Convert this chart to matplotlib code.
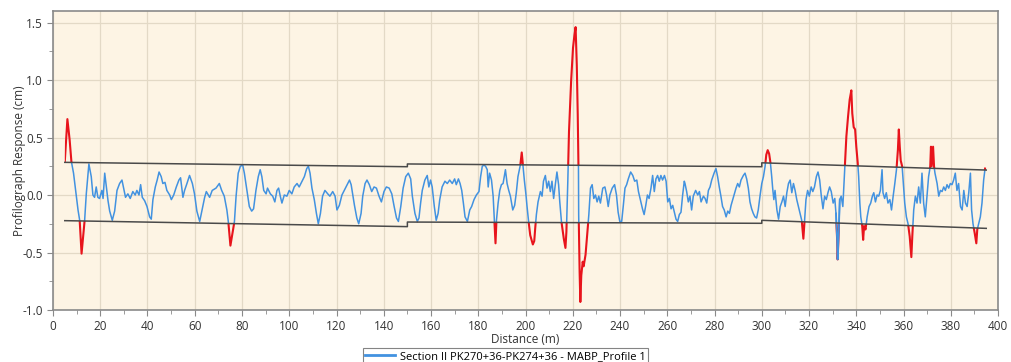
import numpy as np
import matplotlib
matplotlib.use("Agg")
import matplotlib.pyplot as plt
from matplotlib.patches import Polygon
from matplotlib.ticker import MultipleLocator

# profile (distance m, response cm)
dist = [5.0, 6.1, 7.05, 7.8, 8.7, 9.6, 10.6, 11.3, 12.1, 13.4, 14.1, 15.2, 16.2, 16.9, 17.6, 18.3,
        19.0, 19.7, 20.7, 21.2, 21.9, 22.6, 23.3, 24.0, 25.1, 26.1, 27.1, 28.2, 29.2, 29.9, 30.7,
        31.7, 32.7, 33.8, 34.8, 35.5, 36.4, 37.1, 37.8, 38.8, 39.8, 40.9, 41.6, 42.3, 43.3, 44.1,
        44.9, 45.8, 46.5, 47.4, 48.2, 49.4, 50.1, 51.1, 52.2, 53.3, 54.0, 55.0, 55.7, 56.7, 57.8,
        59.0, 59.9, 60.9, 62.1, 63.0, 64.2, 64.9, 66.3, 67.4,
        69.0, 70.4, 71.4, 72.5, 73.6, 74.2, 75.1, 76.0, 76.8, 77.5, 78.4, 79.3, 80.3, 81.0, 82.1,
        83.1, 84.1, 84.9, 85.9, 86.9, 87.7, 88.4, 89.2, 90.2, 90.8, 92.0, 93.0, 93.9, 94.8, 95.5,
        96.2, 96.9, 97.9, 99.0, 100.0, 101.1, 102.1, 103.3, 104.2, 105.2, 106.4, 107.4, 108.1,
        108.8, 109.6, 110.6, 111.5, 112.3, 113.2, 114.1, 115.1, 116.3, 117.2, 118.4, 119.4, 120.2,
        121.2, 122.3, 123.3, 124.5, 125.5, 126.2, 126.9, 127.6, 128.6, 129.4, 130.4, 131.1, 132.1,
        132.9, 133.9,
        134.9, 135.9, 136.9, 138.0, 139.0, 140.1, 141.1, 142.3, 143.4, 144.4, 145.4, 146.2, 147.2,
        148.2, 149.3, 150.4, 151.4, 152.1, 153.2, 154.2, 154.9, 155.6, 156.3, 157.4, 158.4, 159.1,
        159.8, 160.5, 161.4, 162.2, 163.0, 163.7, 164.7, 165.9, 166.9, 167.9, 169.0, 170.0, 170.7,
        171.6, 172.3, 173.0, 173.7, 174.4, 175.4, 176.4, 177.2, 178.2, 179.2, 180.3, 181.0, 181.7,
        182.4, 183.1, 183.8, 184.2, 184.8, 185.6, 186.3, 186.9, 187.3, 187.7, 188.4, 189.1, 189.8,
        190.5, 191.5, 192.2, 192.9, 193.6, 194.6, 195.4, 196.1, 196.8, 197.8, 198.4, 198.9, 199.5,
        200.2,
        200.6, 201.3, 202.0, 203.1, 203.7, 204.1, 204.6, 205.3, 206.3, 207.0, 207.6, 208.4, 209.1,
        209.8, 210.5, 211.2, 211.9, 212.6, 213.3, 214.0, 214.5, 215.2, 216.2, 216.9, 217.3, 217.9,
        218.4, 219.3, 220.1, 220.7, 221.2, 221.7, 222.1, 222.4, 222.5, 222.9, 223.2, 223.6, 224.2,
        224.6, 225.4, 226.1, 226.8, 227.5, 228.2, 228.9, 229.6, 230.3, 231.0, 231.7, 232.7, 233.6,
        234.3, 235.0, 235.7, 236.7, 237.7, 238.5, 239.2, 239.9, 240.7, 241.4, 242.1, 242.8, 243.5,
        244.5, 245.4, 246.2, 247.1, 247.8, 248.8, 249.5, 250.2, 250.9, 251.6, 252.3, 253.1, 253.8,
        254.5, 255.2, 255.9, 256.6, 257.3, 258.0, 258.8, 259.5, 260.2, 260.9, 261.6, 262.3, 263.0,
        263.7, 264.4, 265.1, 265.8, 266.5, 267.2,
        267.5, 268.2, 268.9, 269.6, 270.3, 271.0, 272.0, 272.9, 273.6, 274.3, 275.3, 276.0, 276.7,
        277.4, 278.1, 278.8, 279.8, 280.6, 281.3, 282.0, 282.7, 283.4, 284.1, 284.9, 285.6, 286.3,
        287.0, 287.7, 288.4, 289.1, 289.8, 290.5, 291.2, 292.2, 292.9, 293.6, 294.3, 295.0, 295.7,
        296.4, 297.1, 297.8, 298.5, 299.3, 300.0, 300.7, 301.4, 301.9, 302.5, 303.1, 303.6, 304.2,
        304.6, 305.1, 305.6, 306.4, 307.1, 307.8, 308.5, 309.2, 309.9, 310.6, 311.3, 312.0, 312.7,
        313.4, 314.1, 314.8, 315.5, 316.2, 316.9, 317.6, 318.1, 318.7, 319.4, 320.1, 320.9, 321.6,
        322.3, 323.1, 323.8, 324.5, 325.2, 325.9, 326.6, 327.3, 328.0, 328.7, 329.4, 330.2, 330.9,
        331.4, 331.9, 332.1, 332.6, 333.0, 333.6, 334.3,
        335.1, 335.8, 336.5, 337.2, 337.9, 338.3, 338.9, 339.5, 340.0, 340.6, 341.0, 341.5, 341.9,
        342.5, 342.9, 343.3, 343.9, 344.6, 345.4, 346.1, 346.8, 347.4, 348.1, 348.8, 349.5, 350.2,
        350.9, 351.3, 352.0, 352.7, 353.4, 354.2, 354.9, 355.6, 356.3, 357.0, 357.6, 358.0, 358.4,
        358.8, 359.4, 359.8, 360.5, 361.2, 361.9, 362.6, 363.3, 363.7, 364.3, 365.0, 365.7, 366.4,
        367.1, 367.8, 368.5, 369.2, 369.9, 370.6, 371.3, 371.6, 371.9, 372.5, 372.9, 373.3, 374.2,
        374.9, 375.6, 376.3, 377.0, 377.7, 378.4, 379.1, 379.8, 380.5, 381.2, 381.9, 382.6, 383.3,
        384.1, 384.8, 385.5, 386.2, 386.9, 387.6, 388.3, 388.8, 389.4, 390.1, 390.8, 391.2, 391.8,
        392.5, 393.2, 393.9, 394.5]

resp = [0.29, 0.66, 0.48, 0.29, 0.19, 0.04, -0.13, -0.22, -0.51, -0.22, 0.01, 0.27, 0.16, 0.0, -0.02, 0.07,
        -0.02, -0.03, 0.04, -0.03, 0.19, 0.07, -0.05, -0.14, -0.22, -0.14, 0.04, 0.10, 0.13, 0.06, -0.02,
        0.01, -0.03, 0.03, 0.0, 0.04, 0.0, 0.09, -0.02, -0.05, -0.10, -0.19, -0.21, -0.04, 0.07, 0.13,
        0.20, 0.16, 0.10, 0.11, 0.04, 0.0, -0.04, 0.0, 0.07, 0.13, 0.15, -0.02, 0.04, 0.10, 0.17,
        0.10, 0.01, -0.14, -0.23, -0.14, -0.02, 0.03, -0.02, 0.04,
        0.06, 0.10, 0.04, -0.01, -0.13, -0.23, -0.44, -0.33, -0.23, -0.01, 0.19, 0.25, 0.26, 0.19, 0.04,
        -0.10, -0.14, -0.12, 0.04, 0.16, 0.22, 0.16, 0.04, 0.01, 0.06, 0.01, -0.01, -0.06, 0.04, 0.06,
        -0.01, -0.07, 0.0, -0.01, 0.04, 0.01, 0.07, 0.10, 0.07, 0.11, 0.16, 0.23, 0.25,
        0.19, 0.06, -0.04, -0.16, -0.25, -0.16, -0.01, 0.04, 0.01, -0.01, 0.03, -0.01, -0.13,
        -0.09, 0.0, 0.04, 0.09, 0.13, 0.09, 0.0, -0.09, -0.20, -0.25, -0.16, -0.01, 0.10,
        0.13, 0.09,
        0.03, 0.07, 0.06, -0.01, -0.06, 0.03, 0.07, 0.06, 0.01, -0.10, -0.20, -0.23, -0.10,
        0.06, 0.16, 0.19, 0.14, -0.01, -0.16, -0.23, -0.20, -0.07, 0.04, 0.13, 0.17, 0.07,
        0.13, 0.07, -0.10, -0.22, -0.16, -0.04, 0.07, 0.12, 0.10, 0.13, 0.10, 0.14, 0.09,
        0.14, 0.10, 0.04, -0.07, -0.19, -0.23, -0.13, -0.10, -0.04, 0.0, 0.03, 0.16, 0.25,
        0.26, 0.25, 0.22, 0.07, 0.19, 0.13, -0.01, -0.25, -0.42, -0.22, -0.07, 0.04, 0.09,
        0.10, 0.22, 0.10, 0.04, -0.01, -0.13, -0.09, 0.02, 0.16, 0.26, 0.37, 0.26, 0.13,
        0.0,
        -0.09, -0.23, -0.35, -0.43, -0.40, -0.29, -0.17, -0.06, 0.03, -0.01, 0.12, 0.17, 0.06,
        0.12, 0.03, 0.12, -0.03, 0.09, 0.20, 0.09, -0.06, -0.23, -0.38, -0.46, -0.32, 0.12,
        0.55, 0.99, 1.28, 1.39, 1.46, 1.13, 0.70, 0.26, -0.17, -0.67, -0.93, -0.70, -0.58,
        -0.62, -0.52, -0.35, -0.17, 0.06, 0.09, -0.03, 0.0, -0.06, -0.01, -0.07, 0.06, 0.07,
        0.0, -0.10, 0.0, 0.06, 0.09, 0.0, -0.15, -0.23, -0.23, -0.09, 0.06, 0.09, 0.14,
        0.20, 0.17, 0.12, 0.13, 0.03, -0.06, -0.12, -0.17, -0.09, 0.0, -0.03, 0.06, 0.17,
        0.03, 0.14, 0.17, 0.12, 0.17, 0.13, 0.17, 0.12, -0.06, -0.03, -0.12, -0.09, -0.15,
        -0.21, -0.23, -0.17, -0.15, 0.0, 0.12,
        0.10, 0.03, -0.06, -0.01, -0.13, -0.01, 0.04, 0.0, 0.03, -0.06, -0.01, -0.03, -0.07,
        0.04, 0.07, 0.13, 0.19, 0.23, 0.16, 0.07, -0.01, -0.10, -0.13, -0.19, -0.14, -0.16,
        -0.09, -0.04, 0.01, 0.06, 0.10, 0.07, 0.13, 0.17, 0.19, 0.14, 0.06, -0.06, -0.12,
        -0.16, -0.19, -0.20, -0.13, 0.0, 0.10, 0.16, 0.25, 0.35, 0.39, 0.36, 0.29, 0.16,
        0.06, -0.04, 0.04, -0.13, -0.21, -0.10, -0.06, -0.01, -0.10, 0.02, 0.10, 0.13, 0.02,
        0.10, 0.04, -0.04, -0.10, -0.16, -0.22, -0.38, -0.23, -0.04, 0.04, -0.01, 0.07, 0.03,
        0.07, 0.16, 0.20, 0.13, -0.01, -0.12, -0.01, -0.04, 0.02, 0.07, 0.03, -0.07, -0.03,
        -0.16, -0.39, -0.56, -0.30, -0.04, -0.01, -0.10,
        0.22, 0.51, 0.68, 0.83, 0.91, 0.71, 0.59, 0.57, 0.42, 0.28, 0.16, -0.07, -0.19,
        -0.27, -0.39, -0.27, -0.30, -0.19, -0.10, -0.07, -0.01, 0.02, -0.06, 0.0, -0.01, 0.04,
        0.22, 0.02, -0.03, 0.02, -0.07, -0.04, -0.13, -0.01, 0.10, 0.22, 0.39, 0.57, 0.42,
        0.30, 0.25, 0.13, -0.07, -0.19, -0.25, -0.36, -0.54, -0.36, -0.13, -0.01, -0.07, 0.07,
        -0.07, 0.19, -0.07, -0.19, -0.01, 0.16, 0.25, 0.42, 0.25, 0.42, 0.25, 0.19, 0.10,
        -0.01, 0.04, 0.03, 0.07, 0.04, 0.09, 0.06, 0.10, 0.09, 0.13, 0.19, 0.04, 0.10,
        -0.10, -0.13, 0.04, -0.07, -0.10, 0.02, 0.19, -0.13, -0.25, -0.33, -0.42, -0.30, -0.25,
        -0.19, -0.07, 0.13, 0.23]

# tolerance envelope (steps at 150 m and 300 m)
env_x = [5, 150, 150, 300, 300, 395]
env_upper = [0.284, 0.246, 0.27, 0.246, 0.28, 0.217]
env_lower = [-0.223, -0.275, -0.235, -0.246, -0.22, -0.29]

# dip that the reference leaves blue although it crosses the lower limit
blue_span = (331.0, 333.4)

legend_label = "Section II PK270+36-PK274+36 - MABP_Profile 1"

plt.rcParams['font.family'] = ['Open Sans', 'DejaVu Sans']

fig = plt.figure(figsize=(10.11, 3.62), dpi=100)
ax = fig.add_axes([0.0524, 0.1436, 0.9348, 0.826])
ax.set_facecolor('#fdf4e4')

ax.set_xlim(0, 400)
ax.set_ylim(-1.0, 1.6)
ax.xaxis.set_major_locator(MultipleLocator(20))
ax.xaxis.set_minor_locator(MultipleLocator(10))
ax.yaxis.set_major_locator(MultipleLocator(0.5))
ax.yaxis.set_minor_locator(MultipleLocator(0.25))
ax.grid(True, which='major', color='#e3d9c6', lw=0.9)
ax.set_axisbelow(True)

# regions outside / inside the envelope, used as clip paths
ex = np.array(env_x, dtype=float)
above = Polygon(np.column_stack([np.r_[ex, ex[::-1]], np.r_[env_upper, [5.0] * len(ex)]]),
                closed=True, transform=ax.transData)
below = Polygon(np.column_stack([np.r_[ex, ex[::-1]], np.r_[env_lower, [-5.0] * len(ex)]]),
                closed=True, transform=ax.transData)
inside = Polygon(np.column_stack([np.r_[ex, ex[::-1]], np.r_[env_upper, env_lower[::-1]]]),
                 closed=True, transform=ax.transData)

line, = ax.plot(dist, resp, color='#4292e0', lw=1.1, zorder=3, label=legend_label)
line.set_clip_path(inside)
for reg in (above, below):
    r, = ax.plot(dist, resp, color='#e8141c', lw=1.5, zorder=3)
    r.set_clip_path(reg)

d = np.array(dist)
sel = (d >= blue_span[0]) & (d <= blue_span[1])
ax.plot(d[sel], np.array(resp)[sel], color='#4292e0', lw=1.3, zorder=3.5)

ax.plot(env_x, env_upper, color='#4a4a4a', lw=1.1, zorder=4)
ax.plot(env_x, env_lower, color='#4a4a4a', lw=1.1, zorder=4)

for s in ax.spines.values():
    s.set_color('#8a8a8a')
    s.set_linewidth(1.2)
ax.tick_params(which='both', colors='#8a8a8a', labelcolor='#333333', labelsize=8.5, direction='out')
ax.tick_params(which='major', length=4)
ax.tick_params(which='minor', length=3)
ax.set_yticklabels([f"{v:.1f}" for v in ax.get_yticks()])

ax.set_xlabel("Distance (m)", fontsize=8.5, color='#333333', labelpad=0)
ax.set_ylabel("Profilograph Response (cm)", fontsize=8.5, color='#333333')
ax.yaxis.set_label_coords(-0.029, 0.5)

leg = fig.legend(handles=[line], loc='center', bbox_to_anchor=(0.5, 0.016), fontsize=8,
                 frameon=True, fancybox=False, edgecolor='#666666', borderpad=0.2,
                 handlelength=2.7, handletextpad=0.5)
leg.get_frame().set_linewidth(0.8)
leg.legend_handles[0].set_linewidth(2.0)

fig.savefig("out.png", dpi=100, facecolor='white')
